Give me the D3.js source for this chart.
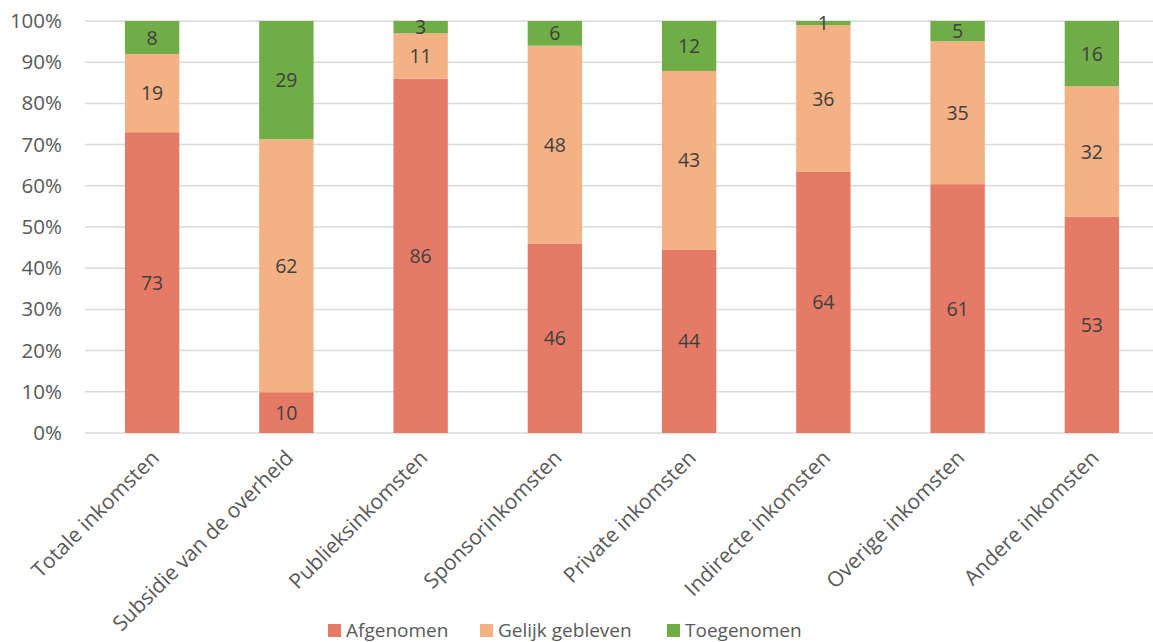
<!DOCTYPE html>
<html><head><meta charset="utf-8">
<script src="https://cdn.jsdelivr.net/npm/d3@7"></script>
<style>body{margin:0;background:#fff;} text{font-family:"Open Sans", sans-serif;}</style>
</head><body><svg id="c" width="1153" height="642"></svg>
<script>
const categories = ["Totale inkomsten","Subsidie van de overheid","Publieksinkomsten","Sponsorinkomsten","Private inkomsten","Indirecte inkomsten","Overige inkomsten","Andere inkomsten"];
const seriesNames = ["Afgenomen","Gelijk gebleven","Toegenomen"];
const afgenomen = [73,10,86,46,44,64,61,53];
const gelijk = [19,62,11,48,43,36,35,32];
const toegenomen = [8,29,3,6,12,1,5,16];
const colors = ["#E57B66","#F4B183","#70AD47"];
const yTicks = [0,0.1,0.2,0.3,0.4,0.5,0.6,0.7,0.8,0.9,1];

const svg = d3.select("#c");
const rows = categories.map((c,i)=>({cat:c, "Afgenomen":afgenomen[i], "Gelijk gebleven":gelijk[i], "Toegenomen":toegenomen[i]}));
const stack = d3.stack().keys(seriesNames).offset(d3.stackOffsetExpand)(rows);

const x = d3.scaleBand().domain(categories).range([85,1159]).paddingInner(0.595).paddingOuter(0.2975);
const y = d3.scaleLinear().domain([0,1]).range([433,21]);

svg.append("g").selectAll("line").data(yTicks).join("line")
  .attr("x1",85).attr("x2",1153).attr("y1",d=>y(d)).attr("y2",d=>y(d))
  .attr("stroke","#D9D9D9").attr("stroke-width",1.5);

const yAxis = svg.append("g").attr("transform","translate(85,0)")
  .call(d3.axisLeft(y).tickValues(yTicks).tickFormat(d3.format(".0%")).tickSize(0).tickPadding(23));
yAxis.select(".domain").remove();
yAxis.selectAll("text").attr("fill","#595959").style("font-size","20.5px").style("font-family","'Open Sans', sans-serif");

const g = svg.append("g");
stack.forEach((s,si)=>{
  g.selectAll(null).data(s).join("rect")
    .attr("x",d=>x(d.data.cat)).attr("width",x.bandwidth())
    .attr("y",d=>y(d[1])).attr("height",d=>y(d[0])-y(d[1]))
    .attr("fill",colors[si]);
  g.selectAll(null).data(s).join("text")
    .attr("x",d=>x(d.data.cat)+x.bandwidth()/2)
    .attr("y",d=>(y(d[0])+y(d[1]))/2)
    .attr("dy","0.36em").attr("text-anchor","middle")
    .attr("fill","#404040").style("font-size","19.5px")
    .text(d=>d.data[seriesNames[si]]);
});

const xAxis = svg.append("g").attr("transform","translate(0,433)")
  .call(d3.axisBottom(x).tickSize(0).tickPadding(0));
xAxis.select(".domain").remove();
xAxis.selectAll("text").attr("fill","#595959").style("font-size","21px").style("font-family","'Open Sans', sans-serif")
  .attr("text-anchor","end").attr("dy","0.35em")
  .attr("transform","translate(3,21) rotate(-45)");

const legX = [328,480,667];
const leg = svg.append("g");
seriesNames.forEach((n,i)=>{
  leg.append("rect").attr("x",legX[i]).attr("y",624).attr("width",13).attr("height",13).attr("fill",colors[i]);
  leg.append("text").attr("x",legX[i]+18).attr("y",630).attr("dy","0.36em").attr("fill","#595959")
    .style("font-size","19px").text(n);
});
</script></body></html>
